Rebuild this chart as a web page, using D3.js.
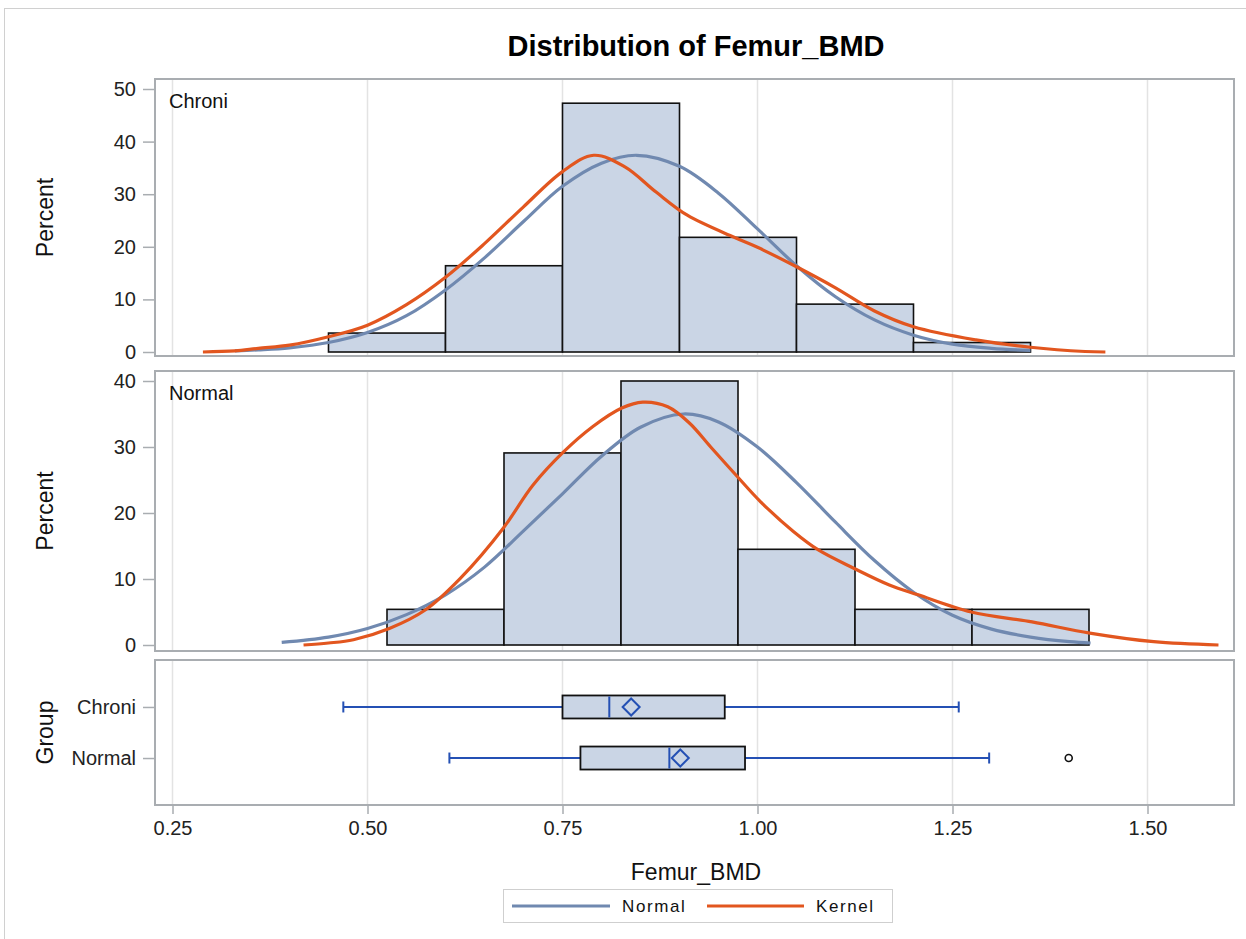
<!DOCTYPE html>
<html>
<head>
<meta charset="utf-8">
<script src="https://cdn.jsdelivr.net/npm/d3@7"></script>
<style>
  html, body { margin: 0; padding: 0; background: #fff; }
  svg { display: block; font-family: "Liberation Sans", Arial, sans-serif; }
</style>
</head>
<body>
<svg id="chart" width="1246" height="939"></svg>
<script>
// ---------------- data ----------------
const xTickValues = [0.25, 0.50, 0.75, 1.00, 1.25, 1.50];
const groups = ["Chroni", "Normal"];
const binWidth = 0.15;

const chroniBinStarts = [0.45, 0.60, 0.75, 0.90, 1.05, 1.20];
const chroniPercents  = [3.6, 16.4, 47.3, 21.8, 9.1, 1.8];
const normalBinStarts = [0.525, 0.675, 0.825, 0.975, 1.125, 1.275];
const normalPercents  = [5.4, 29.1, 40.0, 14.5, 5.4, 5.4];

// Normal-fit curve (x, percent) for Chroni
const chroniNormalX = [0.33, 0.36, 0.40, 0.45, 0.50, 0.55, 0.60, 0.65, 0.70, 0.75, 0.80, 0.845, 0.90, 0.95, 1.00, 1.05, 1.10, 1.15, 1.20, 1.25, 1.30, 1.35];
const chroniNormalY = [0.2, 0.4, 0.8, 1.8, 3.7, 6.9, 11.8, 17.9, 24.8, 31.5, 35.9, 37.4, 35.3, 30.2, 23.4, 16.4, 10.5, 6.1, 3.2, 1.5, 0.7, 0.3];
// Kernel curve for Chroni
const chroniKernelX = [0.289, 0.33, 0.36, 0.40, 0.45, 0.50, 0.55, 0.60, 0.65, 0.70, 0.75, 0.79, 0.83, 0.87, 0.91, 0.97, 1.00, 1.05, 1.10, 1.15, 1.20, 1.28, 1.35, 1.42, 1.446];
const chroniKernelY = [0.0, 0.2, 0.7, 1.3, 2.9, 5.1, 9.0, 14.2, 20.6, 27.6, 34.3, 37.4, 35.2, 30.4, 26.0, 21.8, 19.9, 16.2, 12.2, 7.8, 4.8, 2.3, 0.9, 0.1, 0.0];

// Normal-fit curve for Normal
const normalNormalX = [0.39, 0.45, 0.50, 0.55, 0.60, 0.65, 0.70, 0.75, 0.80, 0.85, 0.905, 0.95, 1.00, 1.05, 1.10, 1.15, 1.20, 1.25, 1.30, 1.35, 1.40, 1.427];
const normalNormalY = [0.4, 1.2, 2.5, 4.6, 7.6, 11.8, 17.3, 22.9, 28.6, 33.0, 35.0, 33.8, 30.0, 24.6, 18.6, 12.8, 8.0, 4.5, 2.4, 1.2, 0.5, 0.3];
// Kernel curve for Normal
const normalKernelX = [0.418, 0.45, 0.482, 0.528, 0.574, 0.619, 0.674, 0.712, 0.75, 0.789, 0.826, 0.853, 0.885, 0.913, 0.94, 0.972, 1.004, 1.046, 1.078, 1.124, 1.169, 1.206, 1.274, 1.352, 1.426, 1.508, 1.591];
const normalKernelY = [0.0, 0.3, 0.8, 2.5, 5.3, 10.1, 17.7, 24.2, 29.1, 33.1, 35.9, 36.8, 36.1, 33.6, 30.0, 25.8, 21.7, 17.2, 14.4, 11.6, 9.1, 7.6, 5.0, 3.5, 1.8, 0.5, 0.0];

// Box plot statistics
const boxMin    = [0.469, 0.605];
const boxQ1     = [0.750, 0.773];
const boxMedian = [0.810, 0.887];
const boxMean   = [0.838, 0.901];
const boxQ3     = [0.958, 0.984];
const boxMax    = [1.258, 1.297];
const outlierGroup = ["Normal"];
const outlierValue = [1.399];

const topTicks = [0, 10, 20, 30, 40, 50];
const midTicks = [0, 10, 20, 30, 40];

// ---------------- style ----------------
const FONT = '"Liberation Sans", Arial, sans-serif';
const histFill = "#cad5e5";
const normalColor = "#7089b0";
const kernelColor = "#e2561f";
const boxLine = "#2450b4";
const frameColor = "#a9adb1";
const gridColor = "#e3e3e3";

const svg = d3.select("#chart");

// outer frame
svg.append("rect").attr("x", 4.5).attr("y", 8.5).attr("width", 1300).attr("height", 1000)
  .attr("fill", "none").attr("stroke", "#d0d0d0").attr("stroke-width", 1);

const x = d3.scaleLinear().domain([0.25, 1.5]).range([172.5, 1147.5]);
const L = 155, R = 1234;

// title
svg.append("text").attr("x", 696).attr("y", 56).attr("text-anchor", "middle")
  .attr("font-family", FONT).attr("font-weight", "bold").attr("font-size", 29)
  .attr("fill", "#000").text("Distribution of Femur_BMD");

function grid(g, y0, y1) {
  g.selectAll("line.grid").data(xTickValues).join("line").attr("class", "grid")
    .attr("x1", d => x(d)).attr("x2", d => x(d)).attr("y1", y0).attr("y2", y1)
    .attr("stroke", gridColor).attr("stroke-width", 1.5);
}

function styleAxis(g) {
  g.select(".domain").remove();
  g.selectAll(".tick line").attr("stroke", frameColor).attr("stroke-width", 1.5);
  g.selectAll(".tick text").attr("font-family", FONT).attr("font-size", 20).attr("fill", "#222");
}

function histPanel(y0, y1, yDomainTicks, yMax, y0px, yMaxPx, starts, pcts, nX, nY, kX, kY, label) {
  const y = d3.scaleLinear().domain([0, yMax]).range([y0px, yMaxPx]);
  const g = svg.append("g");
  grid(g, y0, y1);

  const clipId = "clip" + label;
  svg.append("clipPath").attr("id", clipId).append("rect")
    .attr("x", L).attr("y", y0).attr("width", R - L).attr("height", y1 - y0);

  const plot = g.append("g").attr("clip-path", `url(#${clipId})`);
  plot.selectAll("rect.bar").data(starts).join("rect").attr("class", "bar")
    .attr("x", d => x(d)).attr("width", d => x(d + binWidth) - x(d))
    .attr("y", (d, i) => y(pcts[i])).attr("height", (d, i) => y(0) - y(pcts[i]))
    .attr("fill", histFill).attr("stroke", "#111").attr("stroke-width", 1.6);

  const line = d3.line().x(d => x(d[0])).y(d => y(d[1])).curve(d3.curveCatmullRom.alpha(0.5));
  plot.append("path").datum(nX.map((v, i) => [v, nY[i]])).attr("d", line)
    .attr("fill", "none").attr("stroke", normalColor).attr("stroke-width", 3.2);
  plot.append("path").datum(kX.map((v, i) => [v, kY[i]])).attr("d", line)
    .attr("fill", "none").attr("stroke", kernelColor).attr("stroke-width", 3.2);

  g.append("rect").attr("x", L).attr("y", y0).attr("width", R - L).attr("height", y1 - y0)
    .attr("fill", "none").attr("stroke", frameColor).attr("stroke-width", 2);

  const ax = g.append("g").attr("transform", `translate(${L},0)`)
    .call(d3.axisLeft(y).tickValues(yDomainTicks).tickSize(12).tickPadding(7).tickFormat(d3.format("d")));
  styleAxis(ax);

  g.append("text").attr("x", 169).attr("y", y0 + 29).attr("font-family", FONT)
    .attr("font-size", 20).attr("fill", "#111").text(label);

  g.append("text").attr("transform", `translate(53,${(y0 + y1) / 2}) rotate(-90)`)
    .attr("text-anchor", "middle").attr("font-family", FONT).attr("font-size", 23)
    .attr("fill", "#111").text("Percent");
}

histPanel(79, 356, topTicks, 50, 352, 89, chroniBinStarts, chroniPercents,
  chroniNormalX, chroniNormalY, chroniKernelX, chroniKernelY, "Chroni");
histPanel(371, 651, midTicks, 40, 645, 381, normalBinStarts, normalPercents,
  normalNormalX, normalNormalY, normalKernelX, normalKernelY, "Normal");

// ---------------- box panel ----------------
const by0 = 660, by1 = 805;
const yb = d3.scalePoint().domain(groups).range([by0, by1]).padding(0.92);
const bg = svg.append("g");
grid(bg, by0, by1);

const bh = 11.5;
groups.forEach((grp, i) => {
  const cy = yb(grp);
  bg.append("line").attr("x1", x(boxMin[i])).attr("x2", x(boxQ1[i])).attr("y1", cy).attr("y2", cy)
    .attr("stroke", boxLine).attr("stroke-width", 2);
  bg.append("line").attr("x1", x(boxQ3[i])).attr("x2", x(boxMax[i])).attr("y1", cy).attr("y2", cy)
    .attr("stroke", boxLine).attr("stroke-width", 2);
  [boxMin[i], boxMax[i]].forEach(v => {
    bg.append("line").attr("x1", x(v)).attr("x2", x(v)).attr("y1", cy - 5.5).attr("y2", cy + 5.5)
      .attr("stroke", boxLine).attr("stroke-width", 2);
  });
  bg.append("rect").attr("x", x(boxQ1[i])).attr("y", cy - bh)
    .attr("width", x(boxQ3[i]) - x(boxQ1[i])).attr("height", 2 * bh)
    .attr("fill", histFill).attr("stroke", "#111").attr("stroke-width", 1.8);
  bg.append("line").attr("x1", x(boxMedian[i])).attr("x2", x(boxMedian[i]))
    .attr("y1", cy - bh + 1).attr("y2", cy + bh - 1).attr("stroke", boxLine).attr("stroke-width", 2);
  const mx = x(boxMean[i]), d = 8.5;
  bg.append("path").attr("d", `M${mx},${cy - d}L${mx + d},${cy}L${mx},${cy + d}L${mx - d},${cy}Z`)
    .attr("fill", "none").attr("stroke", boxLine).attr("stroke-width", 2);
});
outlierGroup.forEach((grp, i) => {
  bg.append("circle").attr("cx", x(outlierValue[i])).attr("cy", yb(grp)).attr("r", 3.5)
    .attr("fill", "none").attr("stroke", "#111").attr("stroke-width", 1.6);
});

bg.append("rect").attr("x", L).attr("y", by0).attr("width", R - L).attr("height", by1 - by0)
  .attr("fill", "none").attr("stroke", frameColor).attr("stroke-width", 2);

const yax = bg.append("g").attr("transform", `translate(${L},0)`)
  .call(d3.axisLeft(yb).tickSize(12).tickPadding(7));
styleAxis(yax);

bg.append("text").attr("transform", `translate(53,${(by0 + by1) / 2}) rotate(-90)`)
  .attr("text-anchor", "middle").attr("font-family", FONT).attr("font-size", 23)
  .attr("fill", "#111").text("Group");

const xax = svg.append("g").attr("transform", `translate(0,${by1})`)
  .call(d3.axisBottom(x).tickValues(xTickValues).tickSize(9).tickPadding(7).tickFormat(d3.format(".2f")));
styleAxis(xax);

svg.append("text").attr("x", 696).attr("y", 880).attr("text-anchor", "middle")
  .attr("font-family", FONT).attr("font-size", 23).attr("fill", "#111").text("Femur_BMD");

// ---------------- legend ----------------
const leg = svg.append("g");
leg.append("rect").attr("x", 503.5).attr("y", 889.5).attr("width", 389).attr("height", 33)
  .attr("fill", "#fff").attr("stroke", "#cfcfcf").attr("stroke-width", 1);
const legendItems = [
  { name: "Normal", color: normalColor, x1: 512, x2: 610, tx: 622 },
  { name: "Kernel", color: kernelColor, x1: 707, x2: 804, tx: 816 }
];
legendItems.forEach(it => {
  leg.append("line").attr("x1", it.x1).attr("x2", it.x2).attr("y1", 906).attr("y2", 906)
    .attr("stroke", it.color).attr("stroke-width", 3.2);
  leg.append("text").attr("x", it.tx).attr("y", 912).attr("font-family", FONT)
    .attr("font-size", 17).attr("letter-spacing", 1.6).attr("fill", "#111").text(it.name);
});
</script>
</body>
</html>
